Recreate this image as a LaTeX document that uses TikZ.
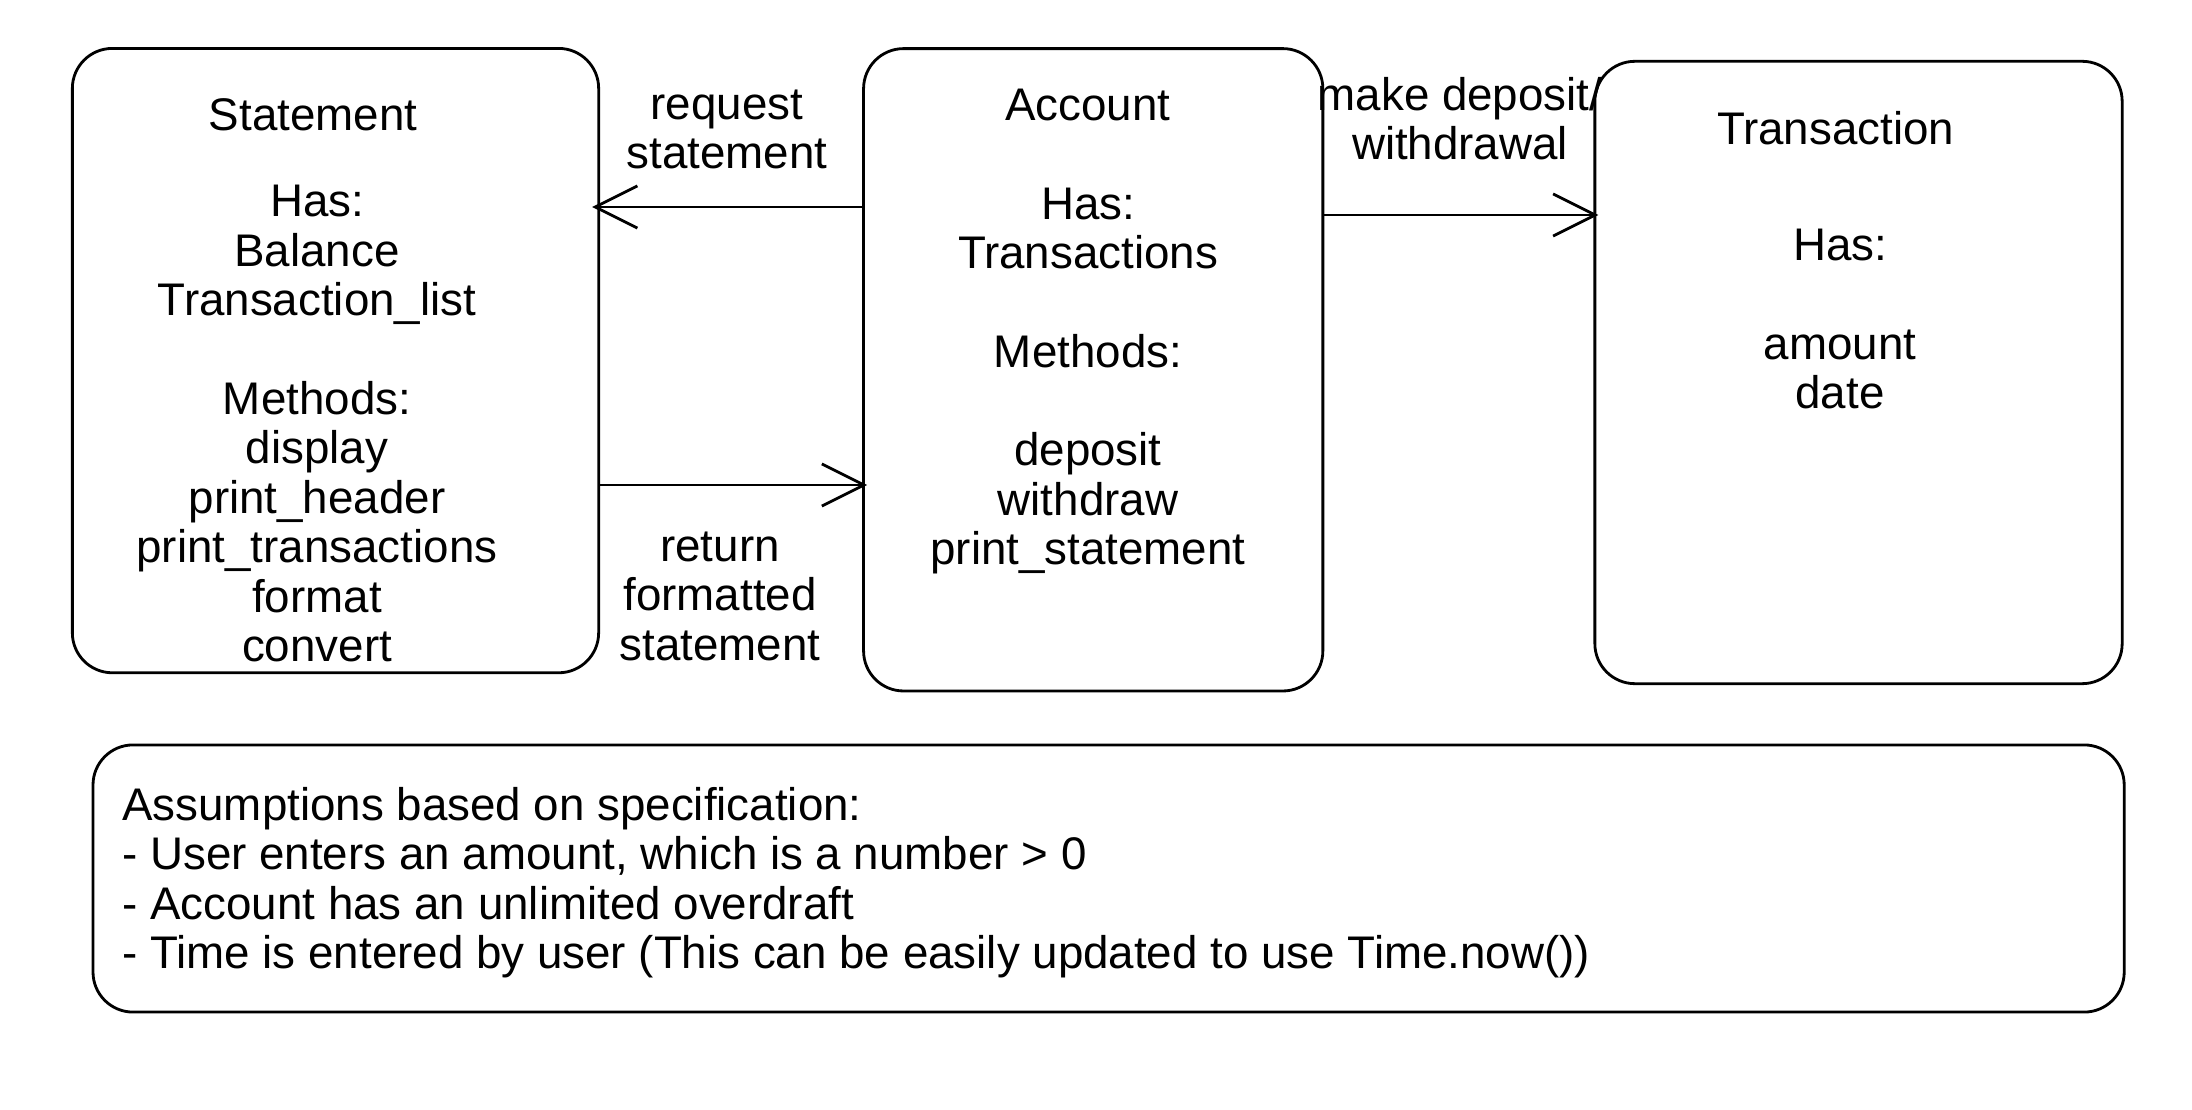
\documentclass[tikz,border=0pt]{standalone}
\usepackage{fontspec}
\setmainfont{Liberation Sans}
\usetikzlibrary{positioning,arrows.meta}

\begin{document}
\begin{tikzpicture}[
        x=0.01cm, y=-0.01cm,
        box/.style={draw, line width=0.8pt, rounded corners=0.4cm, inner sep=0pt},
        txt/.style={align=center, font=\fontsize{13}{14.06}\selectfont},
        note/.style={align=left, inner sep=0pt, font=\fontsize{13}{14.06}\selectfont},
        link/.style={draw, line width=0.8pt, -{Straight Barb[length=12pt, width=12pt, line width=0.8pt]}}
      ]
      \useasboundingbox (0,0) rectangle (2192,1110);

      \node (stmt) at (335.5,360.6) [box, minimum width=5.26cm, minimum height=6.24cm] {};
      \node (acct) at (1093.2,369.8) [box, minimum width=4.59cm, minimum height=6.42cm] {};
      \node (trans) at (1858.5,372.5) [box, minimum width=5.27cm, minimum height=6.22cm] {};
      \node (assume) at (1108.6,878.5) [box, minimum width=20.3cm, minimum height=2.67cm] {};

      \node (stmttitle) at (313,114.6) [txt] {Statement};
      \node (stmtbody) at (317,423.6) [txt] {Has:\\Balance\\Transaction\_list\\[14pt]Methods:\\display\\print\_header\\print\_transactions\\format\\convert};
      \node (accttitle) at (1087.6,104.9) [txt] {Account};
      \node (acctbody) at (1088,381) [txt] {Has:\\Transactions\\[14pt]Methods:\\[14pt]deposit\\withdraw\\print\_statement};
      \node (transtitle) at (1835.6,128.6) [txt] {Transaction};
      \node (transbody) at (1840,319.4) [txt] {Has:\\[14pt]amount\\date};

      \node (assumetxt) at (121.6,882.8) [note, anchor=west] {Assumptions based on specification:\\- User enters an amount, which is a number > 0\\- Account has an unlimited overdraft\\- Time is entered by user (This can be easily updated to use Time.now())};

      \node (reqlbl) at (727,129.3) [txt] {request\\statement};
      \node (retlbl) at (720,596) [txt] {return\\formatted\\statement};
      \node (mklbl) at (1460,118.8) [txt] {make deposit/\\withdrawal};

      \path[link] (acct.west |- 0,207) -- ([xshift=-0.08cm]stmt.east |- 0,207);
      \path[link] (stmt.east |- 0,485) -- ([xshift=0.05cm]acct.west |- 0,485);
      \path[link] (acct.east |- 0,215) -- ([xshift=0.05cm]trans.west |- 0,215);
    \end{tikzpicture}
\end{document}
